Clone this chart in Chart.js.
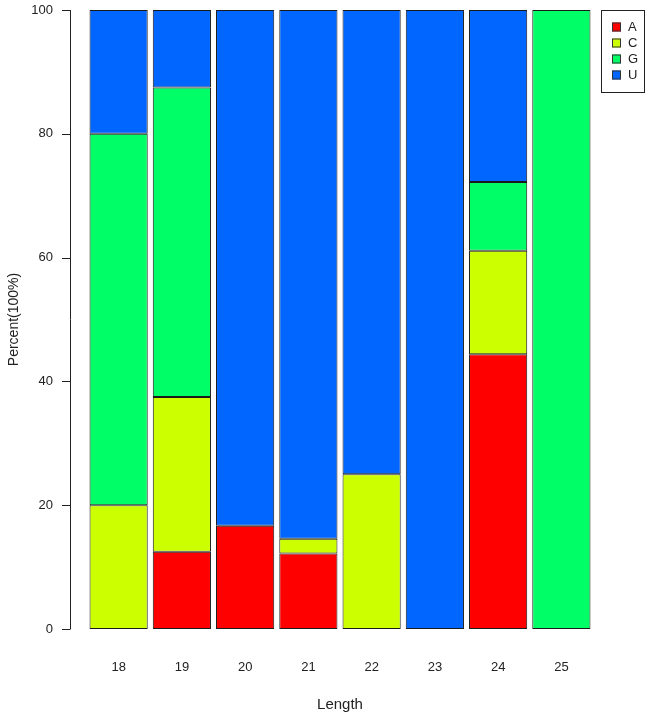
<!DOCTYPE html>
<html>
<head>
<meta charset="utf-8">
<script src="https://cdn.jsdelivr.net/npm/chart.js@4/dist/chart.umd.min.js"></script>
<style>
  html, body { margin: 0; padding: 0; background: #fff; }
  #wrap { width: 652px; height: 720px; }
</style>
</head>
<body>
<div id="wrap"><canvas id="c" width="652" height="720"></canvas></div>
<script>
const categories = ['18', '19', '20', '21', '22', '23', '24', '25'];
const seriesA = [0, 12.5, 16.7, 12.2, 0, 0, 44.4, 0];
const seriesC = [20, 25, 0, 2.4, 25, 0, 16.7, 0];
const seriesG = [60, 50, 0, 0, 0, 0, 11.1, 100];
const seriesU = [20, 12.5, 83.3, 85.4, 75, 100, 27.8, 0];
const yTicks = [0, 20, 40, 60, 80, 100];
const seriesNames = ['A', 'C', 'G', 'U'];
const seriesColors = ['#FF0000', '#CCFF00', '#00FF66', '#0066FF'];

const FONT = '"Liberation Sans", Arial, sans-serif';
const seriesValues = [seriesA, seriesC, seriesG, seriesU];

const datasets = seriesNames.map((n, i) => ({
  label: n,
  data: seriesValues[i],
  backgroundColor: seriesColors[i],
  borderColor: '#1a1a1a',
  borderWidth: 1,
  borderSkipped: false,
  categoryPercentage: 1.0,
  barPercentage: 0.92
}));

const axisPlugin = {
  id: 'rAxis',
  afterDraw(chart) {
    const ctx = chart.ctx;
    const y = chart.scales.y;
    const x0 = chart.chartArea.left - 17;
    ctx.save();
    ctx.strokeStyle = '#222';
    ctx.lineWidth = 1;
    ctx.beginPath();
    ctx.moveTo(x0 + 0.5, y.getPixelForValue(yTicks[0]));
    ctx.lineTo(x0 + 0.5, y.getPixelForValue(yTicks[yTicks.length - 1]));
    yTicks.forEach(t => {
      const py = Math.round(y.getPixelForValue(t)) + 0.5;
      ctx.moveTo(x0 + 0.5, py);
      ctx.lineTo(x0 - 8, py);
    });
    ctx.stroke();

    // legend
    const lx = chart.chartArea.right + 8, ly = chart.chartArea.top;
    const lw = 43, lh = 82;
    ctx.strokeStyle = '#222';
    ctx.strokeRect(lx + 0.5, ly + 0.5, lw, lh);
    ctx.font = '13px ' + FONT;
    ctx.textBaseline = 'middle';
    ctx.textAlign = 'left';
    chart.data.datasets.forEach((ds, i) => {
      const cy = ly + 17 + i * 16;
      ctx.fillStyle = ds.backgroundColor;
      ctx.fillRect(lx + 11, cy - 4.5, 9, 9);
      ctx.strokeStyle = '#333';
      ctx.strokeRect(lx + 11.5, cy - 4, 8, 8);
      ctx.fillStyle = '#222';
      ctx.fillText(ds.label, lx + 27, cy);
    });
    ctx.restore();
  }
};

new Chart(document.getElementById('c'), {
  type: 'bar',
  data: { labels: categories, datasets },
  options: {
    responsive: false,
    animation: false,
    layout: { padding: { left: 0, right: 59, top: 10, bottom: 0 } },
    plugins: { legend: { display: false }, tooltip: { enabled: false } },
    scales: {
      x: {
        stacked: true,
        grid: { display: false, drawTicks: false },
        border: { display: false },
        ticks: { color: '#222', font: { family: FONT, size: 13 }, padding: 31, maxRotation: 0 },
        title: { display: true, text: 'Length', color: '#222', font: { family: FONT, size: 15 }, padding: { top: 0, bottom: 6 } },
        afterFit(s) { s.height = 91; s.paddingLeft = 0; s.paddingRight = 0; }
      },
      y: {
        stacked: true,
        min: 0, max: 100,
        afterBuildTicks(s) { s.ticks = yTicks.map(v => ({ value: v })); },
        grid: { display: false, drawTicks: false },
        border: { display: false },
        ticks: { color: '#222', font: { family: FONT, size: 13 }, padding: 34 },
        title: { display: true, text: 'Percent(100%)', color: '#222', font: { family: FONT, size: 14 }, padding: { top: 6, bottom: 0 } },
        afterFit(s) { s.width = 87; s.paddingTop = 0; s.paddingBottom = 0; }
      }
    }
  },
  plugins: [axisPlugin]
});
</script>
</body>
</html>
